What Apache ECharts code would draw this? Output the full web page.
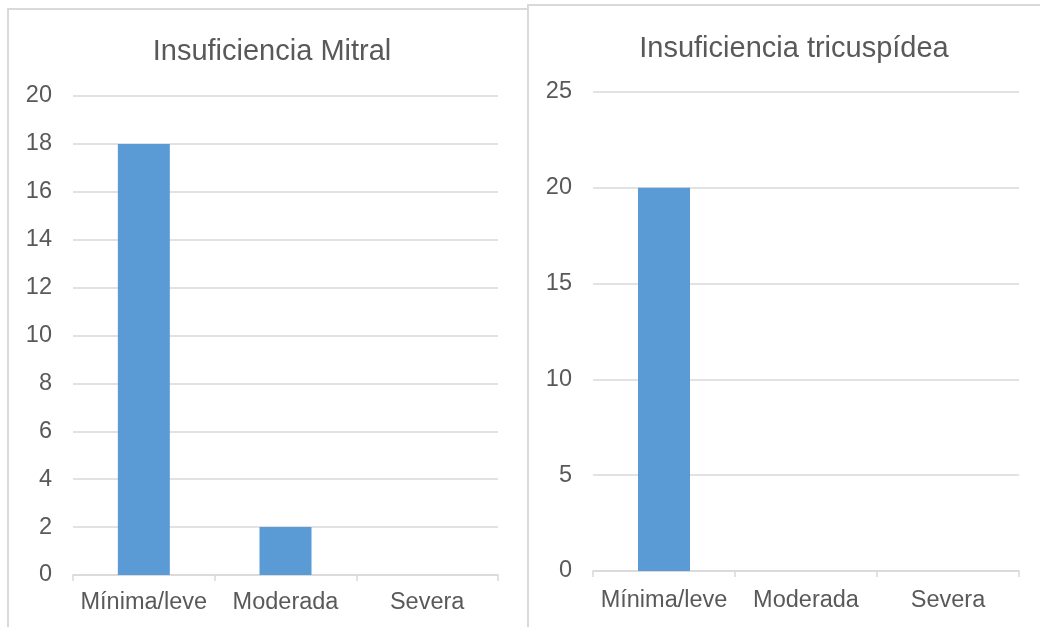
<!DOCTYPE html>
<html>
<head>
<meta charset="UTF-8">
<title>Insuficiencia valvular</title>
<script src="https://cdn.jsdelivr.net/npm/echarts@6/dist/echarts.min.js"></script>
<style>
  html, body { margin: 0; padding: 0; background: #fff; }
  #chart { width: 1040px; height: 627px; }
</style>
</head>
<body>
<div id="chart"></div>
<script>
// datos
var categorias = ['Mínima/leve', 'Moderada', 'Severa'];
var mitral = [18, 2, 0];
var tricuspidea = [20, 0, 0];
var tituloMitral = 'Insuficiencia Mitral';
var tituloTricuspidea = 'Insuficiencia tricuspídea';

var gris = '#D9D9D9';
var texto = '#595959';
var azul = '#5B9BD5';
var fuente = '"Liberation Sans", Arial, sans-serif';

function ejeX(idx, margen) {
    return {
        type: 'category',
        gridIndex: idx,
        data: categorias,
        axisLine: { lineStyle: { color: gris, width: 1.5 } },
        axisTick: { show: true, length: 6, lineStyle: { color: gris, width: 1.5 } },
        axisLabel: { color: texto, fontSize: 23.5, fontFamily: fuente, margin: margen, interval: 0 }
    };
}

function ejeY(idx, max, intervalo) {
    return {
        type: 'value',
        gridIndex: idx,
        min: 0,
        max: max,
        interval: intervalo,
        axisLine: { show: false },
        axisTick: { show: false },
        axisLabel: { color: texto, fontSize: 23.5, fontFamily: fuente, margin: 21 },
        splitLine: { lineStyle: { color: gris, width: 1.5 } }
    };
}

var chart = echarts.init(document.getElementById('chart'));
chart.setOption({
    animation: false,
    title: [
        { text: tituloMitral, left: 267, top: 32, textAlign: 'center',
          textStyle: { color: texto, fontSize: 29, fontWeight: 'normal', fontFamily: fuente } },
        { text: tituloTricuspidea, left: 789, top: 29, textAlign: 'center',
          textStyle: { color: texto, fontSize: 29, fontWeight: 'normal', fontFamily: fuente } }
    ],
    graphic: [
        { type: 'rect', shape: { x: 8, y: 9, width: 520, height: 700 },
          style: { fill: 'none', stroke: gris, lineWidth: 2 }, silent: true },
        { type: 'rect', shape: { x: 528, y: 5, width: 600, height: 700 },
          style: { fill: 'none', stroke: gris, lineWidth: 2 }, silent: true }
    ],
    grid: [
        { left: 73, right: 542, top: 96, bottom: 52 },
        { left: 593, right: 21, top: 92, bottom: 56 }
    ],
    xAxis: [ejeX(0, 16), ejeX(1, 18)],
    yAxis: [ejeY(0, 20, 2), ejeY(1, 25, 5)],
    series: [
        { type: 'bar', xAxisIndex: 0, yAxisIndex: 0, data: mitral, barWidth: 52,
          itemStyle: { color: azul } },
        { type: 'bar', xAxisIndex: 1, yAxisIndex: 1, data: tricuspidea, barWidth: 52,
          itemStyle: { color: azul } }
    ]
});
</script>
</body>
</html>
